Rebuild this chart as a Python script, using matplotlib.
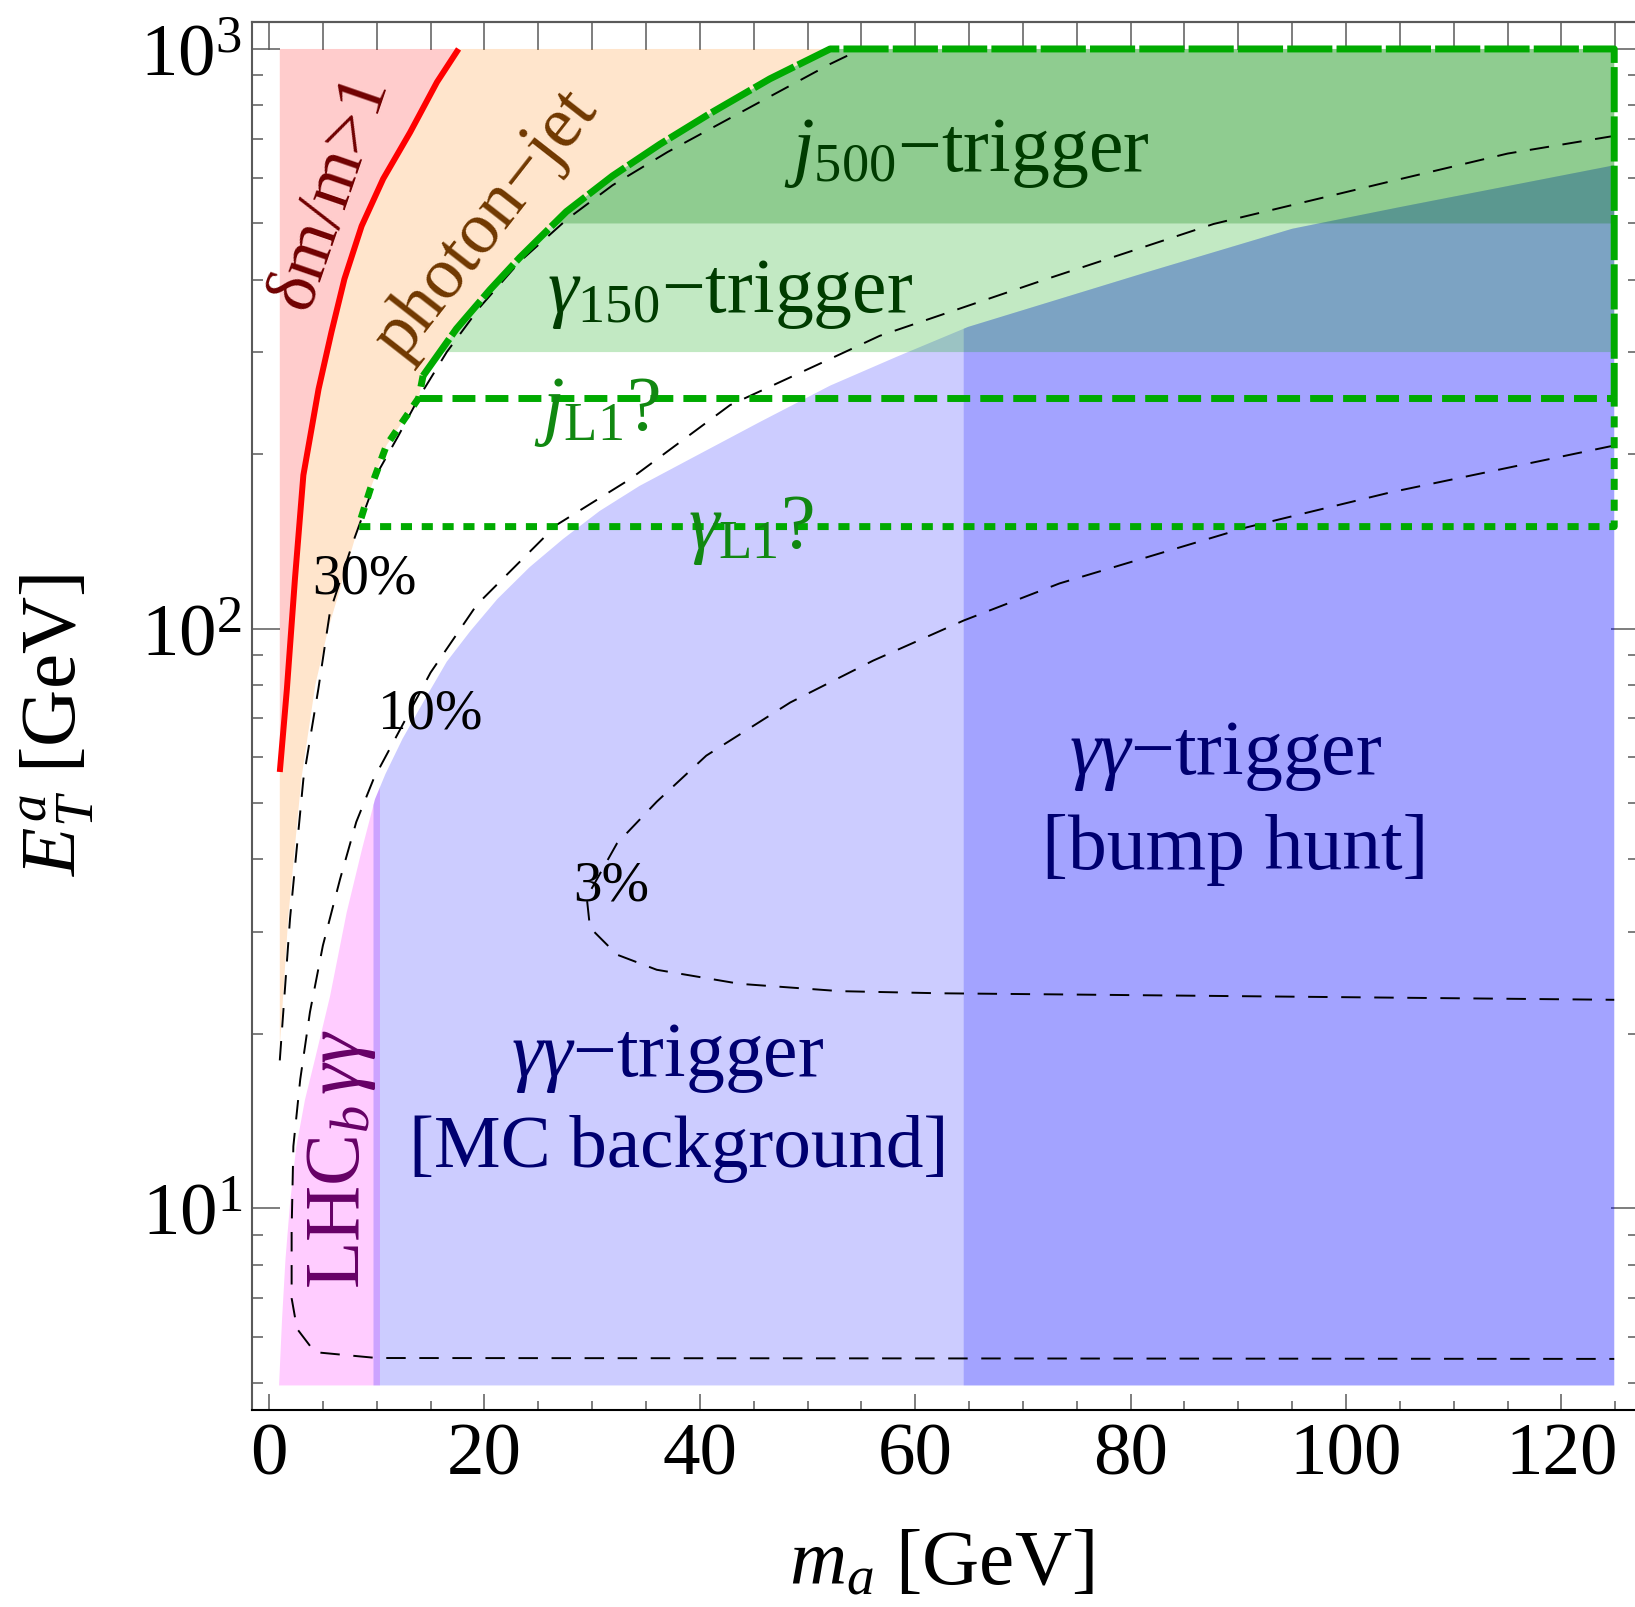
import numpy as np
import matplotlib
matplotlib.use('Agg')
import matplotlib.pyplot as plt
from matplotlib.ticker import FixedLocator, NullFormatter

plt.rcParams['font.family'] = ['Liberation Serif', 'DejaVu Serif']
plt.rcParams['mathtext.fontset'] = 'custom'
plt.rcParams['mathtext.rm'] = 'Liberation Serif'
plt.rcParams['mathtext.it'] = 'Liberation Serif:italic'
plt.rcParams['mathtext.bf'] = 'Liberation Serif:bold'

# delta m / m = 1 line (m_a, E_T in GeV)
dm_x = [1.0, 1.66, 2.41, 3.19, 4.6, 5.8, 7.0, 8.6, 10.6, 13.1, 15.6, 17.6]
dm_y = [56.6, 78.7, 122, 184, 259, 325, 401, 495, 597, 718, 877, 1000]

# lower edge of the photon-jet region
pj_low_x = [1.0, 1.8, 3.0, 4.3, 5.5, 7.0, 8.3]
pj_low_y = [19, 32, 55, 80, 100, 124, 150]

# photon+jet trigger boundary and its L1 continuation
trig_x = [14.3, 17.4, 20.5, 23.3, 27.6, 31.9, 36.3, 40.9, 46.5, 52.1]
trig_y = [273, 329, 384, 437, 524, 604, 685, 773, 888, 1000]
l1_x = [14.3, 13.9, 10.9, 9.4, 8.3]
l1_y = [273, 250, 207, 174, 150]

# trigger thresholds
et_gamma150 = 300
et_j500 = 500
et_jL1 = 250
et_gammaL1 = 150
et_top = 1000
m_max = 124.9
et_min = 4.95

# kinematic edge of the diphoton regions
edge_x = [0.93, 1.21, 1.53, 1.95, 2.51, 3.34, 4.27, 5.66, 7.21, 8.64, 9.84, 10.8,
          12.4, 14.5, 16.5, 18.7, 21.2, 24.2, 27.3, 30.7, 34.4, 39.1, 45.6, 52.1,
          58.3, 64.9, 81.5, 95.0, 105.0, 124.9]
edge_y = [4.95, 6.44, 8.18, 10.2, 12.7, 15.4, 18.1, 23.2, 32.4, 41.7, 50.8, 56.1,
          64.6, 75.7, 87.7, 99.1, 112.5, 127.7, 142.8, 159.6, 176.3, 196.2, 227.4,
          262.6, 294.6, 331.5, 412, 489.6, 533.6, 630]
lhcb_max = 10.3
mc_min = 9.7
bump_min = 64.5

# contours of relative resolution
c30_x = [1.0, 1.95, 3.19, 4.58, 5.66, 7.8, 10.3, 12.0, 14.0, 16.5, 19.6, 23.3,
         27.7, 31.9, 37.0, 46.1, 52.1, 55.0]
c30_y = [18, 31.6, 55, 78.7, 107, 141, 189, 215, 252, 300, 359, 430,
         509, 582, 664, 820, 942, 1000]
c10_x = [124.9, 115.0, 103.8, 87.7, 72.2, 56.7, 52.1, 42.8, 33.5, 26.7, 19.3,
         15.0, 9.7, 8.1, 6.6, 5.0, 3.8, 2.9, 2.26, 2.1, 2.1, 2.6, 4.25, 10.0, 124.9]
c10_y = [708, 660, 589, 499, 401, 320, 292, 243, 181, 151, 110,
         84, 55, 46.4, 37, 28.4, 21.8, 16.7, 12.8, 9.2, 7.0, 6.2, 5.65, 5.52, 5.5]
c3_x = [124.9, 104.1, 90.8, 73.4, 64.5, 56.1, 48.4, 40.6, 36.0, 32.3, 29.5,
        29.8, 32.3, 36.0, 43.7, 53.0, 62.3, 72.8, 124.9]
c3_y = [207, 171.8, 149.6, 119.7, 103.3, 88.1, 74.6, 60.4, 50.3, 42.6, 34.4,
        30.5, 27.4, 25.8, 24.4, 23.7, 23.5, 23.4, 22.9]


def x_on(xs, ys, y):
    # x position of a monotonic curve at height y (log scale)
    return np.interp(np.log(y), np.log(ys), xs)


def edge_between(x0, x1):
    ex = np.array(edge_x)
    ey = np.array(edge_y)
    keep = (ex > x0) & (ex < x1)
    xs = np.concatenate([[x0], ex[keep], [x1]])
    ys = np.exp(np.interp(xs, ex, np.log(ey)))
    return xs, ys


fig = plt.figure(figsize=(16.35, 16.08), dpi=100)
ax = fig.add_axes([252 / 1635, 197 / 1608, 1387 / 1635, 1388 / 1608])
ax.set_yscale('log')
ax.set_xlim(-1.58, 127.2)
ax.set_ylim(4.49, 1113)

# delta m / m > 1
px = [dm_x[0], dm_x[0], dm_x[-1]] + dm_x[::-1]
py = [dm_y[0], et_top, et_top] + dm_y[::-1]
ax.fill(px, py, color=(1, 0, 0), alpha=0.2, lw=0)

# photon-jet region
px = [pj_low_x[0]] + dm_x + [trig_x[-1]] + trig_x[::-1] + l1_x[1:] + pj_low_x[::-1]
py = [pj_low_y[0]] + dm_y + [et_top] + trig_y[::-1] + l1_y[1:] + pj_low_y[::-1]
ax.fill(px, py, color=(1, 0.5, 0), alpha=0.2, lw=0)

# LHCb diphoton
xs, ys = edge_between(edge_x[0], lhcb_max)
ax.fill(np.r_[xs, lhcb_max], np.r_[ys, et_min], color=(1, 0, 1), alpha=0.2, lw=0)

# diphoton trigger: MC background and bump hunt
xs, ys = edge_between(mc_min, m_max)
ax.fill(np.r_[mc_min, xs, m_max], np.r_[et_min, ys, et_min], color=(0, 0, 1), alpha=0.2, lw=0)
xs, ys = edge_between(bump_min, m_max)
ax.fill(np.r_[bump_min, xs, m_max], np.r_[et_min, ys, et_min], color=(0, 0, 1), alpha=0.2, lw=0)

# single photon and jet triggers
for e_lo, col, a in [(et_gamma150, (0, 0.655, 0.03), 0.24), (et_j500, (0, 0.475, 0), 0.257)]:
    x_lo = x_on(trig_x, trig_y, e_lo)
    keep = np.array(trig_y) > e_lo
    gx = np.r_[x_lo, m_max, m_max, np.array(trig_x)[keep][::-1]]
    gy = np.r_[e_lo, e_lo, et_top, np.array(trig_y)[keep][::-1]]
    ax.fill(gx, gy, color=col, alpha=a, lw=0)

# resolution contours
for cx, cy in [(c30_x, c30_y), (c10_x, c10_y), (c3_x, c3_y)]:
    ax.plot(cx, cy, color='black', lw=1.4, dashes=(10, 7))

ax.plot(dm_x, dm_y, color='red', lw=4.3, solid_capstyle='butt', solid_joinstyle='round')

green = '#00AA00'
ax.plot(trig_x + [m_max, m_max], trig_y + [et_top, et_jL1], color=green, lw=5,
        dashes=(6.5, 0.6), dash_capstyle='butt')
ax.plot([l1_x[1], m_max], [et_jL1, et_jL1], color=green, lw=5,
        dashes=(3.3, 1.45), dash_capstyle='butt')
ax.plot(l1_x + [m_max, m_max], l1_y + [et_gammaL1, et_jL1], color=green, lw=5,
        dashes=(1.6, 1.4), dash_capstyle='butt')

# labels
fs = 56
ax.text(5.7, 570, 'δm/m>1', color='#700000', fontsize=52, rotation=71,
        ha='center', va='center', rotation_mode='anchor')
ax.text(20.2, 501, 'photon\u2212jet', color='#703800', fontsize=53, rotation=52,
        ha='center', va='center', rotation_mode='anchor')
ax.text(64.8, 664, r'$j_{500}$' + '\u2212trigger', color='#003C00', fontsize=fs,
        ha='center', va='center')
ax.text(42.8, 379, r'$\gamma_{150}$' + '\u2212trigger', color='#003C00', fontsize=fs,
        ha='center', va='center')
ax.text(30.4, 237, r'$j_{\mathrm{L1}}$?', color='#118811', fontsize=fs,
        ha='center', va='center')
ax.text(44.8, 148, r'$\gamma_{\mathrm{L1}}$?', color='#118811', fontsize=fs,
        ha='center', va='center')
ax.text(8.9, 122, '30%', fontsize=41, ha='center', va='center')
ax.text(15.0, 71.3, '10%', fontsize=41, ha='center', va='center')
ax.text(31.8, 36, '3%', fontsize=41, ha='center', va='center')
navy = '#000070'
ax.text(88.8, 60.5, r'$\gamma\gamma$' + '\u2212trigger', color=navy, fontsize=fs,
        ha='center', va='center')
ax.text(89.7, 41.7, '[bump hunt]', color=navy, fontsize=fs, ha='center', va='center')
ax.text(37.0, 18.2, r'$\gamma\gamma$' + '\u2212trigger', color=navy, fontsize=fs,
        ha='center', va='center')
ax.text(38.0, 12.7, '[MC background]', color=navy, fontsize=54, ha='center', va='center')
ax.text(6.7, 12.2, r'LHC$_b\,\gamma\gamma$', color='#660066', fontsize=fs,
        rotation=90, ha='center', va='center', rotation_mode='anchor')

# frame and ticks
frame_col = '#5a5a5a'
for s in ax.spines.values():
    s.set_color(frame_col)
    s.set_linewidth(1.5)
ax.spines['bottom'].set_color('black')

minor_y = [m * 10.0 ** k for k in range(0, 3) for m in range(2, 10)]
ax.xaxis.set_major_locator(FixedLocator(np.arange(0, 121, 20)))
ax.xaxis.set_minor_locator(FixedLocator(np.arange(0, 126, 5)))
ax.yaxis.set_major_locator(FixedLocator([10, 100, 1000]))
ax.yaxis.set_minor_locator(FixedLocator(minor_y))
ax.yaxis.set_minor_formatter(NullFormatter())
ax.tick_params(axis='x', which='major', direction='in', length=11.5, width=1.1,
               color=frame_col, labelsize=54, pad=9, top=False)
ax.tick_params(axis='x', which='minor', direction='in', length=6.5, width=1.1,
               color=frame_col, top=False)
ax.tick_params(axis='y', which='major', direction='in', length=20, width=1.1,
               color=frame_col, labelsize=54, pad=7, right=False)
ax.tick_params(axis='y', which='minor', direction='in', length=8, width=1.1,
               color=frame_col, right=False)

top = ax.secondary_xaxis('top')
top.xaxis.set_major_locator(FixedLocator(np.arange(0, 126, 5)))
top.tick_params(direction='in', length=20, width=1.1, color=frame_col, labeltop=False)
top.spines['top'].set_color(frame_col)
top.spines['top'].set_linewidth(1.5)

right = ax.secondary_yaxis('right')
right.yaxis.set_major_locator(FixedLocator([10, 100, 1000]))
right.yaxis.set_minor_locator(FixedLocator(minor_y))
right.tick_params(which='major', direction='in', length=20, width=1.1, color=frame_col, labelright=False)
right.tick_params(which='minor', direction='in', length=8, width=1.1, color=frame_col)

fig.text(941 / 1635, 1 - 1566 / 1608, r'$m_a$ [GeV]', fontsize=57, ha='center', va='center')
fig.text(57 / 1635, 1 - 725 / 1608, r'$E_T^a$ [GeV]', fontsize=57, rotation=90,
         ha='center', va='center')

fig.savefig('out.png', dpi=100)
